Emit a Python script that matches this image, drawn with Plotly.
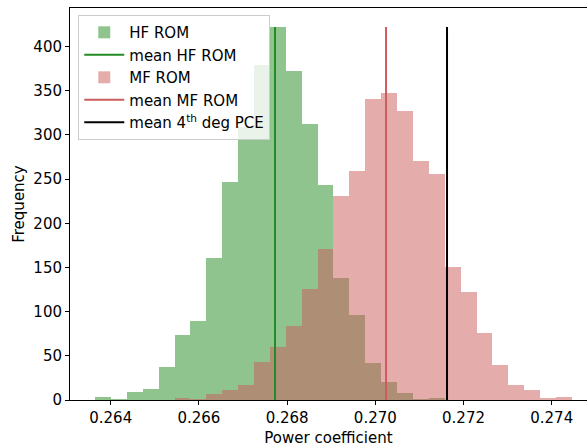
import numpy as np
import plotly.graph_objects as go

# ---- data ----
bin_first_edge = 0.263644
bin_last_edge = 0.274459
n_bins = 30
hf_counts = [3, 1, 9, 13, 37, 74, 89, 161, 247, 309, 379, 422, 372, 312, 243,
             138, 96, 42, 20, 8, 1, 2, 0, 0, 0, 0, 0, 0, 0, 0]
mf_counts = [0, 0, 0, 0, 0, 2, 1, 7, 11, 17, 43, 60, 84, 126, 171,
             231, 259, 341, 347, 327, 271, 256, 151, 122, 76, 40, 17, 11, 2, 3]
mean_hf = 0.267726
mean_mf = 0.270243
mean_pce = 0.271626
x_ticks = [0.264, 0.266, 0.268, 0.270, 0.272, 0.274]
y_ticks = [0, 50, 100, 150, 200, 250, 300, 350, 400]

edges = np.linspace(bin_first_edge, bin_last_edge, n_bins + 1)
centers = (edges[:-1] + edges[1:]) / 2
width = edges[1] - edges[0]
line_top = max(hf_counts)

FONT = "DejaVu Sans"
F = dict(family=FONT, size=15, color="black")

fig = go.Figure()
fig.add_trace(go.Bar(x=centers, y=hf_counts, width=width, name="HF ROM",
                     marker=dict(color="#228B22", line=dict(width=0)),
                     opacity=0.5))
fig.add_trace(go.Scatter(x=[mean_hf, mean_hf], y=[0, line_top], mode="lines",
                         name="mean HF ROM", line=dict(color="#228B22", width=2)))
fig.add_trace(go.Bar(x=centers, y=mf_counts, width=width, name="MF ROM",
                     marker=dict(color="#CD5C5C", line=dict(width=0)),
                     opacity=0.5))
fig.add_trace(go.Scatter(x=[mean_mf, mean_mf], y=[0, line_top], mode="lines",
                         name="mean MF ROM", line=dict(color="#CD5C5C", width=2)))
fig.add_trace(go.Scatter(x=[mean_pce, mean_pce], y=[0, line_top], mode="lines",
                         name="mean 4<sup>th</sup> deg PCE",
                         line=dict(color="black", width=2)))

fig.update_layout(
    width=587, height=448,
    margin=dict(l=70, r=0, t=8, b=48, autoexpand=False),
    paper_bgcolor="white", plot_bgcolor="white",
    barmode="overlay", bargap=0,
    font=F,
    showlegend=True,
    legend=dict(x=0.016, y=0.982, xanchor="left", yanchor="top",
                bgcolor="rgba(255,255,255,0.8)", bordercolor="#cccccc",
                borderwidth=1, font=F,
                tracegroupgap=0, itemwidth=40),
)
fig.update_xaxes(
    range=[0.263077, 0.274800], tickvals=x_ticks,
    ticktext=[f"{v:.3f}" for v in x_ticks], tickfont=F,
    ticks="outside", ticklen=4, tickwidth=1, tickcolor="black",
    showline=True, linecolor="black", linewidth=1, mirror=True,
    showgrid=False, zeroline=False,
    title=dict(text="Power coefficient", standoff=6, font=F),
)
fig.update_yaxes(
    range=[0, 443.6], tickvals=y_ticks, tickfont=F,
    ticks="outside", ticklen=4, tickwidth=1, tickcolor="black",
    showline=True, linecolor="black", linewidth=1, mirror=False,
    showgrid=False, zeroline=False,
    title=dict(text="Frequency", standoff=5, font=F),
)

fig.write_html(
    "out.html",
    config={"displayModeBar": False},
    post_script="document.body.style.margin='0';document.body.style.overflow='hidden';",
)
